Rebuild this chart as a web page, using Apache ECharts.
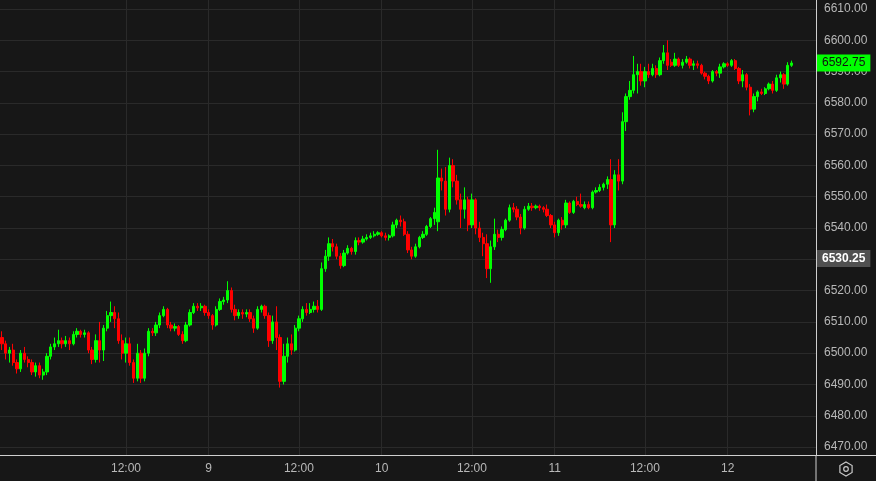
<!DOCTYPE html>
<html>
<head>
<meta charset="utf-8">
<script src="https://cdn.jsdelivr.net/npm/echarts@6/dist/echarts.min.js"></script>
<style>
html,body{margin:0;padding:0;background:#171717;}
#chart{width:876px;height:481px;}
</style>
</head>
<body>
<div id="chart"></div>
<script>
// 30-minute bars, index 0 = day 7 19:30
const opens = [
6505,6503,6500,6501,6497,6495,6500,6498,6497,6494,
6496,6493,6494,6499,6502,6503,6504,6503,6504,6503,
6506,6507,6506,6506.5,6501,6498,6504,6501,6508,6512,
6513,6511,6504,6500,6503,6497,6492,6500,6492,6500,
6507,6506.5,6509,6512,6514,6509,6508,6508.5,6506,6504,
6509,6513,6515,6514.5,6515,6513,6512,6509,6514,6516.5,
6517,6520,6514,6512,6513,6512.5,6513,6511,6508,6514,
6515,6512,6504,6510,6505,6491,6499,6503,6501,6508,
6511,6514,6513,6514,6515,6514,6527,6531,6535,6534,
6531,6528,6532,6533.5,6532.5,6536,6535.5,6536.5,6537,6537.5,
6538,6538.5,6537.5,6537,6537.5,6541,6542.5,6542,6538,6533,
6531,6534,6537,6538,6540.5,6543,6542,6556,6555,6546,
6560,6555,6549,6546,6549,6541,6549,6540,6537,6535,
6527,6534,6538,6537,6539.5,6542.5,6546.5,6546,6543.5,6540,
6546,6547,6546.5,6547,6546.5,6546,6544,6541,6538.5,6542.5,
6541,6548,6545,6548.5,6547.5,6546.5,6547.5,6546.5,6551.5,6552,
6553,6554,6555.5,6541,6557,6555,6574,6582,6584,6589,
6590,6587,6590,6589,6591,6589,6593.5,6596,6593,6592,
6594,6592,6593,6594,6592,6592.5,6592,6589.5,6588.5,6587,
6590,6589.5,6591.5,6592.5,6592,6593.5,6591,6587,6589,6585,
6578,6582,6583.5,6583,6584.5,6586,6584,6588,6589,6586,6592
];
const closes = [
6503,6500,6501,6497,6495,6500,6498,6497,6494,6496,
6493,6494,6499,6502,6503,6504,6503,6504,6503,6506,
6507,6506,6506.5,6501,6498,6504,6501,6508,6512,6513,
6511,6504,6500,6503,6497,6492,6500,6492,6500,6507,
6506.5,6509,6512,6514,6509,6508,6508.5,6506,6504,6509,
6513,6515,6514.5,6515,6513,6512,6509,6514,6516.5,6517,
6520,6514,6512,6513,6512.5,6513,6511,6508,6514,6515,
6512,6504,6510,6505,6491,6499,6503,6501,6508,6511,
6514,6513,6514,6515,6514,6527,6531,6535,6534,6531,
6528,6532,6533.5,6532.5,6536,6535.5,6536.5,6537,6537.5,6538,
6538.5,6537.5,6537,6537.5,6541,6542.5,6542,6538,6533,6531,
6534,6537,6538,6540.5,6543,6545,6556,6555,6546,6560,
6555,6549,6546,6549,6541,6549,6540,6537,6535,6527,
6534,6538,6537,6539.5,6542.5,6546.5,6546,6543.5,6540,6546,
6547,6546.5,6547,6546.5,6546,6544,6541,6538.5,6542.5,6541,
6548,6545,6548.5,6547.5,6547,6547.5,6546.5,6551.5,6552,6553,
6554,6555.5,6541,6557,6555,6574,6582,6584,6589,6590,
6587,6590,6589,6591,6589,6593.5,6596,6592,6592,6594,
6592,6593,6594,6592,6592.5,6592,6589.5,6588.5,6587,6590,
6589.5,6591.5,6592.5,6592,6593.5,6591,6587,6589,6585,6578,
6582,6583.5,6583,6584.5,6586,6584,6588,6589,6586,6592,6592.75
];
const lows = [
6501,6498,6497,6496,6493.5,6494,6497,6495.5,6493,6492.5,
6492,6491.5,6493,6498,6501,6502,6501.5,6502,6501,6502.5,
6505,6505,6505,6500,6496.5,6497,6497,6497.5,6507,6510,
6508,6503,6498,6497,6496,6490.5,6491,6490.5,6491,6499,
6505.5,6505.5,6508,6511.5,6508,6507,6507,6505.5,6503,6503.5,
6508.5,6512.5,6513.5,6513.5,6512,6511,6507.5,6508.5,6513.5,6515.5,
6516,6513,6510.5,6511,6511,6511.5,6510,6506.5,6507.5,6513,
6511,6502,6503,6501,6489,6490,6497,6499.5,6500.5,6507,
6510,6512,6512.5,6513,6513,6513.5,6526,6529.5,6532.5,6530,
6527,6527.5,6531.5,6531.5,6531.5,6534.5,6535,6536,6536.5,6537,
6537.5,6537,6536,6536,6537,6540,6540.5,6537.5,6532,6530,
6530.5,6533.5,6536.5,6537.5,6540,6541,6539,6552,6544,6545,
6553,6547.5,6540,6543,6539,6540,6538,6535.5,6531,6524,
6522.5,6533,6535.5,6536,6539,6542,6545,6542.5,6538,6539.5,
6545.5,6545.5,6546,6545.5,6545,6543.5,6540,6537,6537.5,6539.5,
6540,6544.5,6544.5,6547,6546.5,6546,6546,6546,6551,6551.5,
6552,6552.5,6535.5,6540,6552,6554,6571,6581,6583,6583,
6585.5,6585,6588,6588.5,6588,6588.5,6592.5,6590.5,6591.5,6591.5,
6591.5,6591,6592.5,6591,6590.5,6591,6589,6587.5,6586,6586.5,
6588.5,6588,6591,6591.5,6591.5,6590.5,6586,6585,6584,6576,
6577,6580.5,6582.5,6582.5,6584,6583,6583.5,6586.5,6584.5,6585.5,6591.5
];
const highs = [
6507,6504,6502,6503,6498,6501,6502,6499,6498,6497,
6497,6495,6500,6503,6505,6507.5,6505,6505.5,6505,6507,
6508,6507.5,6507.5,6507,6502,6506,6510,6509,6513.5,6516.5,
6515,6513,6506,6505,6505,6498,6503,6501,6501.5,6508,
6508,6510,6513,6515,6514.5,6510,6509.5,6509,6507,6510,
6514,6516,6516,6516,6515.5,6514,6512.5,6515,6517.5,6518,
6523,6521,6515.5,6514,6514,6514,6514,6512,6515,6515.5,
6515.5,6513,6512,6515,6506,6503,6505,6506,6509,6512,
6515,6516,6516,6516.5,6517,6529,6533,6537,6536.5,6535,
6532,6533,6534.5,6534,6537,6537,6537.5,6538,6538.5,6539,
6539,6539,6538.5,6538,6542,6543,6544,6543,6539,6534,
6535,6537.5,6539,6541,6543.5,6546.5,6565,6559,6559.5,6562.5,
6562,6557,6551,6553,6550,6551,6549.5,6542,6538.5,6538,
6536,6543,6539.5,6540.5,6543,6547.5,6548,6547,6544.5,6547,
6548,6548,6547.5,6547.5,6547,6547.5,6544.5,6542,6543,6543.5,
6549,6548.5,6549,6550,6551,6548.5,6548.5,6552,6553,6554,
6554.5,6556.5,6562,6558.5,6562,6577,6583,6587,6595,6592.5,
6592.5,6591.5,6592.5,6592.5,6592,6594.5,6598.5,6600,6594,6596,
6594.5,6594,6595,6594.5,6593.5,6593.5,6592.5,6590,6589,6590.5,
6590.5,6592.5,6593,6593,6594,6594,6591.5,6590.5,6589.5,6586,
6583,6584,6584.5,6585,6586.5,6587,6589,6590,6589.5,6593,6593.5
];
const yTickValues = [6470,6480,6490,6500,6510,6520,6530,6540,6550,6560,6570,6580,6590,6600,6610];
const lastPrice = 6592.75;
const refPrice = 6530.25;

// category axis: 30-minute slots, session break 16:00-17:00 skipped
const totalSlots = 217;
const categories = [];
(function () {
  let day = 7, mins = 19 * 60 + 30;
  while (categories.length < totalSlots) {
    if (!(mins >= 16 * 60 && mins < 17 * 60)) {
      const hh = String(Math.floor(mins / 60)).padStart(2, '0');
      const mm = String(mins % 60).padStart(2, '0');
      categories.push(day + ' ' + hh + ':' + mm);
    }
    mins += 30;
    if (mins >= 24 * 60) { mins = 0; day++; }
  }
})();

const candles = opens.map((o, i) => [o, closes[i], lows[i], highs[i]]);

function showTick(idx, val) {
  if (idx < 20) return false;
  const t = val.split(' ')[1];
  return t === '12:00' || t === '00:00';
}

const FONT = 'Liberation Sans, Arial, sans-serif';
const chart = echarts.init(document.getElementById('chart'), null, {renderer: 'canvas'});
chart.setOption({
  animation: false,
  backgroundColor: '#171717',
  grid: {left: 0, right: 60, top: 0, bottom: 26, containLabel: false},
  xAxis: {
    type: 'category',
    data: categories,
    boundaryGap: true,
    axisLine: {show: true, lineStyle: {color: '#cfcfcf', width: 1}},
    axisTick: {show: false, alignWithLabel: true},
    axisLabel: {
      interval: showTick,
      margin: 8,
      color: '#b8b8b8',
      fontFamily: FONT,
      fontSize: 12,
      formatter: function (val) {
        const parts = val.split(' ');
        return parts[1] === '00:00' ? parts[0] : parts[1];
      }
    },
    splitLine: {show: true, interval: showTick, alignWithLabel: true, lineStyle: {color: '#2a2a2a', width: 1}}
  },
  yAxis: {
    type: 'value',
    position: 'right',
    min: 6467.46,
    max: 6612.88,
    scale: true,
    axisLine: {show: true, lineStyle: {color: '#cfcfcf', width: 1}},
    axisTick: {show: false, customValues: yTickValues},
    axisLabel: {
      customValues: yTickValues,
      margin: 8,
      color: '#b8b8b8',
      fontFamily: FONT,
      fontSize: 12,
      formatter: v => v.toFixed(2)
    },
    splitLine: {show: true, lineStyle: {color: '#2a2a2a', width: 1}}
  },
  series: [{
    type: 'candlestick',
    data: candles,
    barWidth: 2.8,
    clip: false,
    itemStyle: {
      color: '#00ff00', color0: '#ff0000',
      borderColor: '#00ff00', borderColor0: '#ff0000',
      borderWidth: 1
    },
    markLine: {
      silent: true,
      symbol: ['none', 'none'],
      animation: false,
      lineStyle: {color: 'rgba(0,0,0,0)', width: 0, type: 'solid'},
      data: [
        {yAxis: lastPrice, label: {
          show: true, position: 'end', distance: 1,
          formatter: lastPrice.toFixed(2),
          backgroundColor: '#00ff00', color: '#111111',
          fontFamily: FONT, fontSize: 12, lineHeight: 13, padding: [2, 5]
        }},
        {yAxis: refPrice, label: {
          show: true, position: 'end', distance: 1,
          formatter: refPrice.toFixed(2),
          backgroundColor: '#505050', color: '#ffffff', fontWeight: 'bold',
          fontFamily: FONT, fontSize: 12, lineHeight: 13, padding: [2, 5]
        }}
      ]
    }
  }],
  graphic: [
    {type: 'line', shape: {x1: 816, y1: 455, x2: 816, y2: 481}, style: {stroke: '#cfcfcf', lineWidth: 1}, silent: true},
    {type: 'line', shape: {x1: 816, y1: 455.5, x2: 876, y2: 455.5}, style: {stroke: '#cfcfcf', lineWidth: 1}, silent: true},
    {type: 'polygon', shape: {points: [[846, 462], [852.1, 465.5], [852.1, 472.5], [846, 476], [839.9, 472.5], [839.9, 465.5]]},
      style: {fill: 'none', stroke: '#c8c8c8', lineWidth: 1.2}, silent: true},
    {type: 'circle', shape: {cx: 846, cy: 469, r: 2.3}, style: {fill: 'none', stroke: '#c8c8c8', lineWidth: 1.2}, silent: true}
  ]
});
</script>
</body>
</html>
